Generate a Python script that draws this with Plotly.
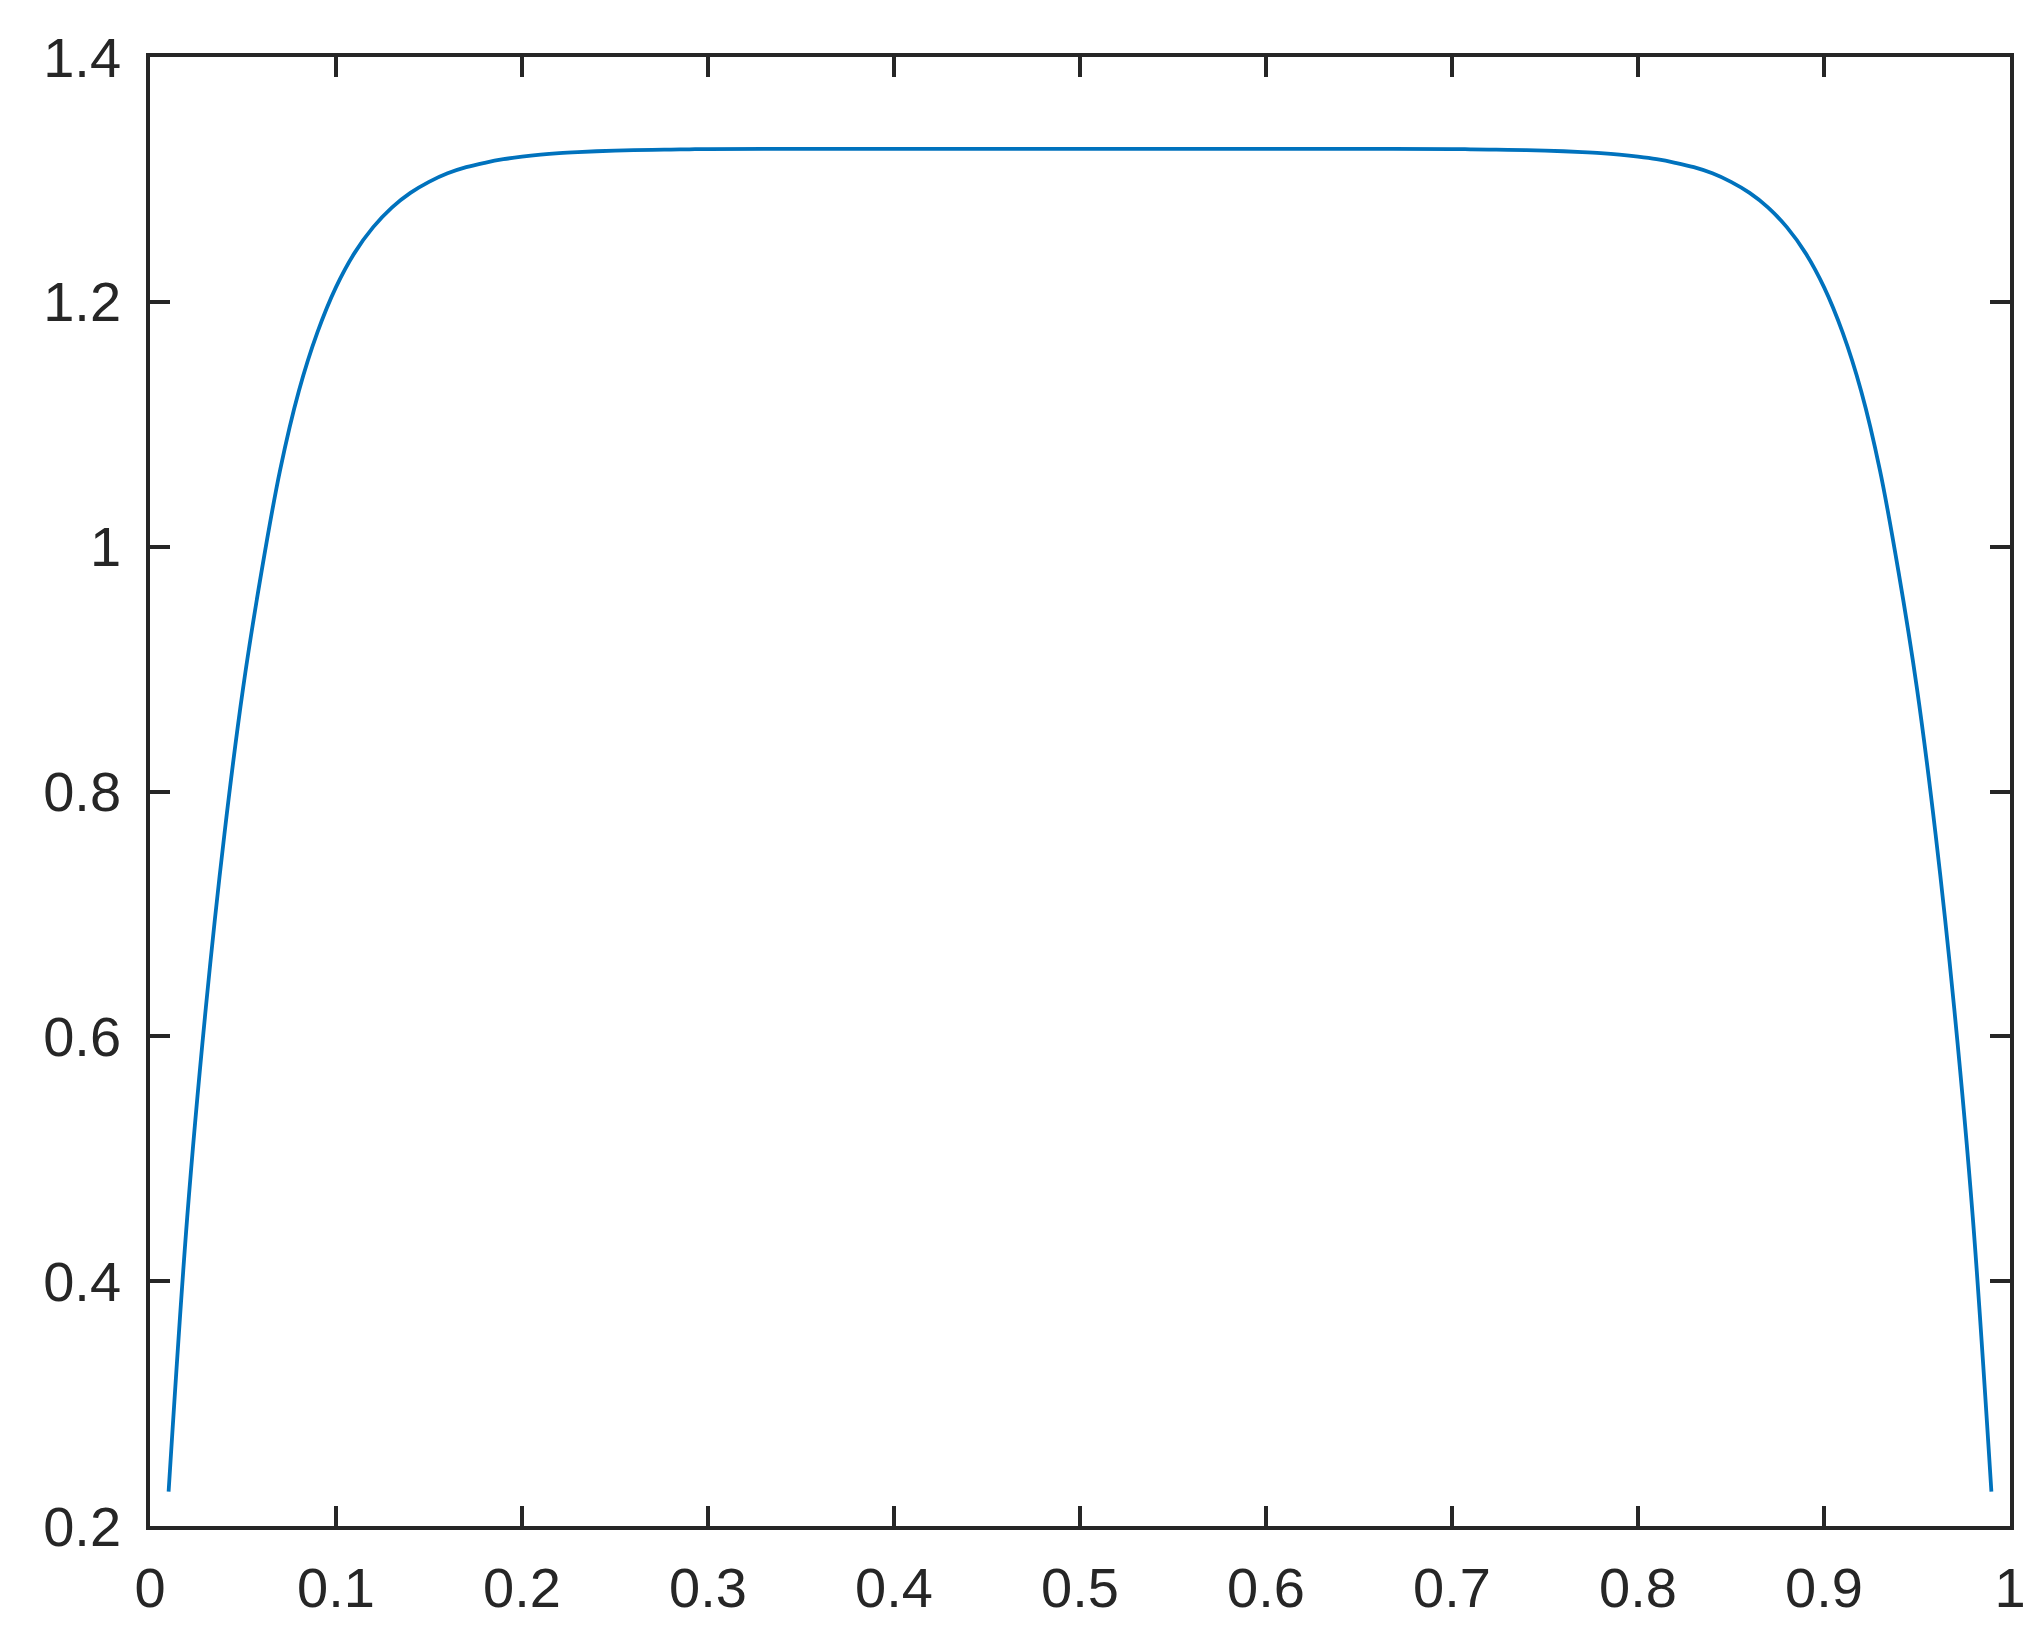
import plotly.graph_objects as go

# Values
x_left = [0.01, 0.02, 0.03, 0.04, 0.05, 0.06, 0.07, 0.08, 0.09, 0.10,
          0.11, 0.12, 0.13, 0.14, 0.15, 0.16, 0.17, 0.18, 0.19, 0.20,
          0.21, 0.22, 0.23, 0.24, 0.25, 0.26, 0.27, 0.28, 0.29, 0.30]
y_left = [0.228, 0.452, 0.623, 0.765, 0.884, 0.980, 1.063, 1.127, 1.175, 1.212,
          1.240, 1.261, 1.277, 1.289, 1.298, 1.305, 1.310, 1.3136, 1.3165, 1.3186,
          1.3202, 1.3214, 1.3223, 1.323, 1.3235, 1.3239, 1.3242, 1.3244, 1.3246, 1.3248]
x_mid = [0.35, 0.40, 0.45, 0.50, 0.55, 0.60, 0.65]
y_mid = [1.325, 1.325, 1.325, 1.325, 1.325, 1.325, 1.325]
x_right = [0.70, 0.71, 0.72, 0.73, 0.74, 0.75, 0.76, 0.77, 0.78, 0.79,
           0.80, 0.81, 0.82, 0.83, 0.84, 0.85, 0.86, 0.87, 0.88, 0.89,
           0.90, 0.91, 0.92, 0.93, 0.94, 0.95, 0.96, 0.97, 0.98, 0.99]
y_right = [1.3248, 1.3246, 1.3244, 1.3242, 1.3239, 1.3235, 1.323, 1.3223, 1.3214, 1.3202,
           1.3186, 1.3165, 1.3136, 1.310, 1.305, 1.298, 1.289, 1.277, 1.261, 1.240,
           1.212, 1.175, 1.127, 1.063, 0.980, 0.884, 0.765, 0.623, 0.452, 0.228]

x_ticks = [0, 0.1, 0.2, 0.3, 0.4, 0.5, 0.6, 0.7, 0.8, 0.9, 1]
x_tick_labels = ["0", "0.1", "0.2", "0.3", "0.4", "0.5", "0.6", "0.7", "0.8", "0.9", "1"]
y_ticks = [0.2, 0.4, 0.6, 0.8, 1.0, 1.2, 1.4]
y_tick_labels = ["0.2", "0.4", "0.6", "0.8", "1", "1.2", "1.4"]

xs = x_left + x_mid + x_right
ys = y_left + y_mid + y_right

axis_color = "#262626"

fig = go.Figure()
fig.add_trace(go.Scatter(x=xs, y=ys, mode="lines",
                         line=dict(color="#0072BD", width=3.8, shape="spline", smoothing=1.0),
                         showlegend=False, hoverinfo="skip"))

common = dict(showline=True, linecolor=axis_color, linewidth=3.5,
              mirror="allticks", ticks="inside", ticklen=20, tickwidth=3.5,
              tickcolor=axis_color, showgrid=False, zeroline=False,
              tickfont=dict(family="Liberation Sans, Arial, sans-serif", size=56, color=axis_color))

fig.update_xaxes(range=[0, 1], tickmode="array", tickvals=x_ticks, ticktext=x_tick_labels,
                 ticklabelstandoff=10, **common)
fig.update_yaxes(range=[0.2, 1.4], tickmode="array", tickvals=y_ticks, ticktext=y_tick_labels,
                 ticklabelstandoff=14, **common)

fig.update_layout(width=2033, height=1645,
                  margin=dict(l=142, r=31, t=49, b=127, autoexpand=False),
                  paper_bgcolor="white", plot_bgcolor="white")

fig.write_html("out.html")
